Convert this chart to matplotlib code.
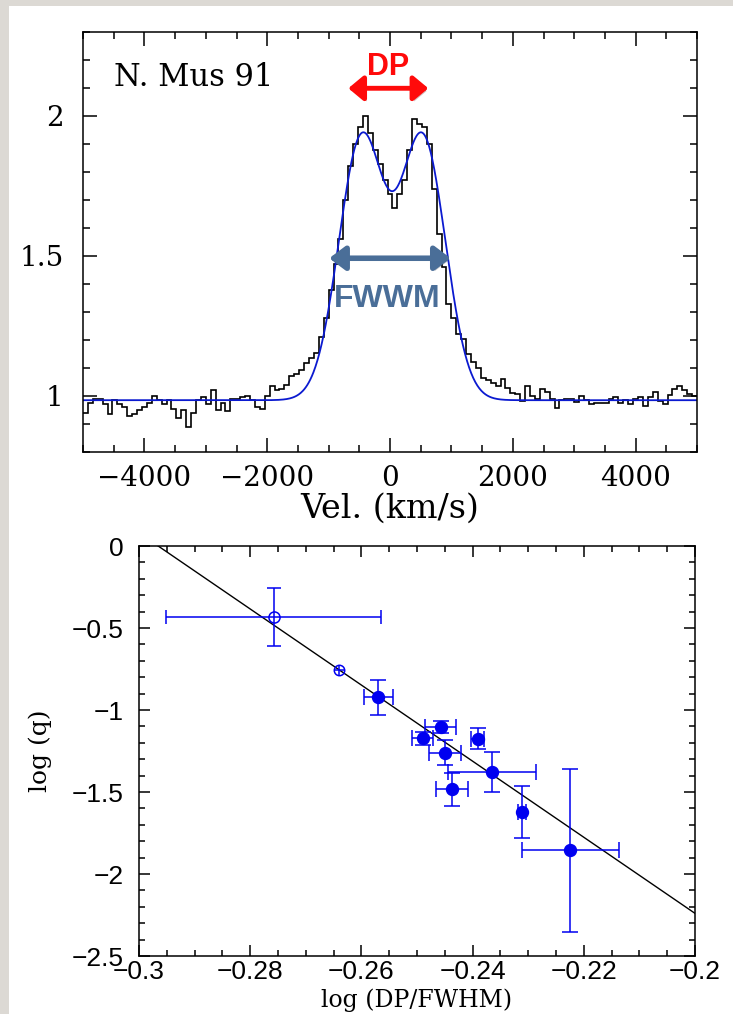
import numpy as np
import matplotlib.pyplot as plt
from matplotlib.patches import Rectangle
from matplotlib.ticker import MultipleLocator, FuncFormatter
import matplotlib.patheffects as pe

plt.rcParams['font.family'] = ['DejaVu Serif']

# --- top panel: H-alpha profile of N. Mus 91 (80 km/s bins) ---
vel_start = -5000
vel_step = 80
flux = [0.94, 0.975, 0.99, 0.99, 0.97, 0.935, 0.985, 0.97, 0.96, 0.93,
        0.935, 0.95, 0.96, 0.975, 1.0, 0.985, 0.97, 0.985, 0.955, 0.92,
        0.95, 0.89, 0.94, 0.985, 0.995, 0.97, 1.02, 0.95, 0.975, 0.945,
        0.99, 0.99, 0.995, 1.0, 0.985, 0.96, 0.955, 1.0, 1.035, 1.02,
        1.025, 1.04, 1.07, 1.08, 1.093, 1.117, 1.135, 1.155, 1.21, 1.28,
        1.38, 1.47, 1.56, 1.70, 1.82, 1.90, 1.96, 2.0, 1.94, 1.88,
        1.83, 1.77, 1.72, 1.67, 1.72, 1.77, 1.88, 1.99, 1.97, 1.96,
        1.90, 1.74, 1.58, 1.46, 1.33,
        1.28, 1.22, 1.205, 1.15, 1.12, 1.10, 1.063, 1.056, 1.048, 1.035,
        1.062, 1.03, 1.012, 1.006, 0.982, 1.035, 1.0, 0.99, 1.025, 1.015,
        0.99, 0.958, 0.985, 0.988, 0.99, 0.978, 1.0, 0.985, 0.972, 0.975,
        0.976, 0.976, 0.988, 0.998, 0.975, 0.985, 0.972, 0.99, 0.995, 0.965,
        0.995, 1.015, 0.983, 0.972, 1.005, 1.026, 1.036, 1.02, 1.008, 1.0]

# double gaussian fit (blue curve)
model_cont = 0.985
model_amp = 0.93
model_sep = 500
model_sigma = 370
model_shift = 35

# arrows / labels on the profile
dp_range = (-679, 624)
dp_level = 2.099
fwwm_range = (-990, 989)
fwwm_level = 1.492

# --- bottom panel: log(q) vs log(DP/FWHM) ---
open_x, open_y, open_xerr, open_yerr = [-0.2758], [-0.435], [0.0193], [0.177]
cross_x, cross_y, cross_xerr, cross_yerr = [-0.2640], [-0.756], [0.0009], [0.03]
logdp = [-0.2570, -0.2457, -0.2490, -0.2391, -0.2449, -0.2365, -0.2437, -0.2311, -0.2224]
logq = [-0.923, -1.104, -1.173, -1.175, -1.260, -1.378, -1.484, -1.622, -1.856]
logdp_err = [0.0026, 0.0028, 0.0019, 0.0012, 0.0029, 0.0079, 0.0029, 0.0007, 0.0087]
logq_err = [0.107, 0.039, 0.038, 0.064, 0.076, 0.123, 0.100, 0.160, 0.498]
fit_slope = -23.2
fit_intercept = -6.88


def fmt(x, pos):
    v = round(x, 6) + 0.0
    return f'{v:g}'.replace('-', '\u2212')


fig = plt.figure(figsize=(7.33, 10.14), dpi=100, facecolor='#dcd9d4')
fig.patches.append(Rectangle((9 / 733, 0), 1, 1008 / 1014, transform=fig.transFigure,
                             facecolor='white', edgecolor='none', zorder=-10))

ax1 = fig.add_axes([83 / 733, 562 / 1014, 614 / 733, 420 / 1014])
ax2 = fig.add_axes([139 / 733, 58 / 1014, 556 / 733, 410 / 1014])

# top panel
edges = vel_start + vel_step * np.arange(len(flux) + 1)
ax1.stairs(flux, edges, color='black', lw=1.2, baseline=None)
vgrid = np.linspace(-5000, 5000, 1200)
model = model_cont + model_amp * (
    np.exp(-(vgrid - model_shift - model_sep) ** 2 / (2 * model_sigma ** 2)) +
    np.exp(-(vgrid - model_shift + model_sep) ** 2 / (2 * model_sigma ** 2)))
ax1.plot(vgrid, model, color='#0b1ad0', lw=1.3)

ax1.set_xlim(-5000, 5000)
ax1.set_ylim(0.8, 2.3)
ax1.xaxis.set_major_locator(MultipleLocator(2000))
ax1.xaxis.set_minor_locator(MultipleLocator(500))
ax1.yaxis.set_major_locator(MultipleLocator(0.5))
ax1.yaxis.set_minor_locator(MultipleLocator(0.1))
ax1.xaxis.set_major_formatter(FuncFormatter(fmt))
ax1.yaxis.set_major_formatter(FuncFormatter(fmt))
ax1.tick_params(which='both', direction='in', top=True, right=True, width=1.1, labelsize=20)
ax1.tick_params(which='major', length=10)
ax1.tick_params(which='minor', length=5)
ax1.tick_params(axis='x', pad=9)
ax1.tick_params(axis='y', pad=14)
for s in ax1.spines.values():
    s.set_linewidth(1.1)
ax1.set_xlabel('Vel. (km/s)', fontsize=24)
ax1.xaxis.set_label_coords(0.5, -0.097)

ax1.text(-4490, 2.1375, 'N. Mus 91', fontsize=22, ha='left', va='center')

shadow = [pe.SimplePatchShadow(offset=(1.5, -2), alpha=0.25), pe.Normal()]
a = ax1.annotate('', xy=(dp_range[1], dp_level), xytext=(dp_range[0], dp_level),
                 arrowprops=dict(arrowstyle='<|-|>,head_length=0.6,head_width=0.5',
                                 mutation_scale=15, lw=3.5, color='#ff0a0a',
                                 shrinkA=0, shrinkB=0))
a.arrow_patch.set_path_effects(shadow)
ax1.text(-27, 2.176, 'DP', color='#ff0a0a', fontsize=22, fontweight='bold',
         family='Liberation Sans', ha='center', va='center')

b = ax1.annotate('', xy=(fwwm_range[1], fwwm_level), xytext=(fwwm_range[0], fwwm_level),
                 arrowprops=dict(arrowstyle='<|-|>,head_length=0.6,head_width=0.45',
                                 mutation_scale=16, lw=4, color='#4a6e98',
                                 shrinkA=0, shrinkB=0))
b.arrow_patch.set_path_effects(shadow)
ax1.text(-45, 1.346, 'FWWM', color='#4a6e98', fontsize=23, fontweight='bold',
         family='Liberation Sans', ha='center', va='center')

# bottom panel
blue = '#0000f0'
xl = np.array([-0.3, -0.2])
ax2.plot(xl, fit_slope * xl + fit_intercept, color='black', lw=1.0)
ax2.errorbar(open_x, open_y, xerr=open_xerr, yerr=open_yerr, fmt='o', mfc='none',
             mec=blue, ms=8, mew=1.1, ecolor=blue, elinewidth=1.1, capsize=5, capthick=1.1)
ax2.errorbar(cross_x, cross_y, xerr=cross_xerr, yerr=cross_yerr, fmt='o', mfc='none',
             mec=blue, ms=7.5, mew=1.1, ecolor=blue, elinewidth=1.1, capsize=0)
ax2.errorbar(logdp, logq, xerr=logdp_err, yerr=logq_err, fmt='o', color=blue,
             ms=8.6, ecolor=blue, elinewidth=1.1, capsize=6, capthick=1.1)

ax2.set_xlim(-0.3, -0.2)
ax2.set_ylim(-2.5, 0)
ax2.xaxis.set_major_locator(MultipleLocator(0.02))
ax2.xaxis.set_minor_locator(MultipleLocator(0.005))
ax2.yaxis.set_major_locator(MultipleLocator(0.5))
ax2.yaxis.set_minor_locator(MultipleLocator(0.1))
ax2.xaxis.set_major_formatter(FuncFormatter(fmt))
ax2.yaxis.set_major_formatter(FuncFormatter(fmt))
ax2.tick_params(which='both', direction='in', top=True, right=True, width=1.1,
                labelsize=19, labelfontfamily='Liberation Sans')
ax2.tick_params(which='major', length=8)
ax2.tick_params(which='minor', length=4)
ax2.tick_params(axis='x', pad=3)
ax2.tick_params(axis='y', pad=11)
for s in ax2.spines.values():
    s.set_linewidth(1.1)
ax2.set_xlabel('log (DP/FWHM)', fontsize=17)
ax2.set_ylabel('log (q)', fontsize=18)
ax2.xaxis.set_label_coords(0.5, -0.078)
ax2.yaxis.set_label_coords(-0.156, 0.5)

fig.savefig('out.png', dpi=100, facecolor=fig.get_facecolor())
